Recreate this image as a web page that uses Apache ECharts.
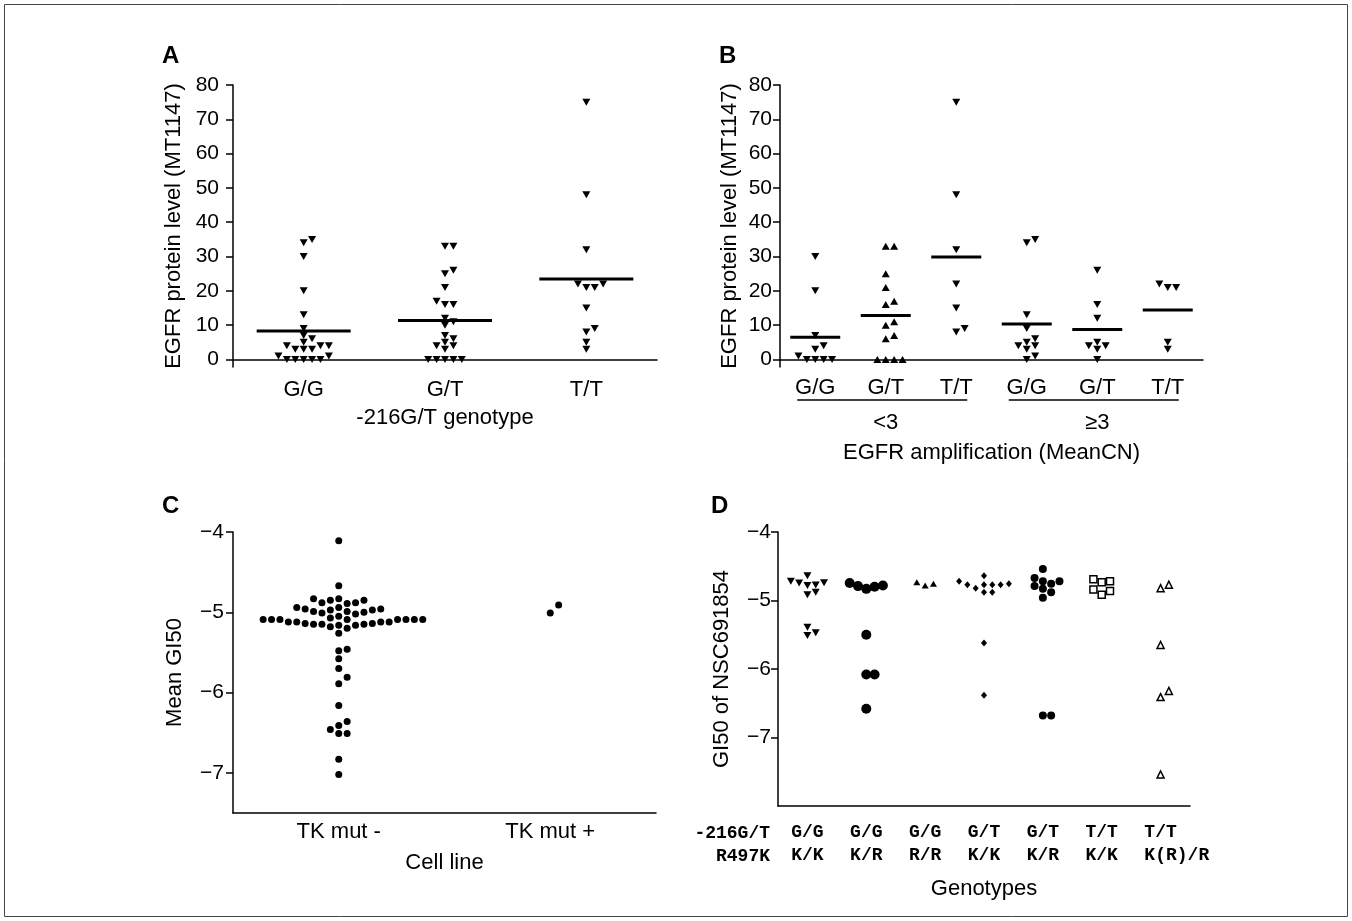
<!DOCTYPE html>
<html><head><meta charset="utf-8">
<script src="https://cdn.jsdelivr.net/npm/echarts@6/dist/echarts.min.js"></script>
<style>html,body{margin:0;padding:0;background:#fff}#c{width:1352px;height:921px}</style>
</head><body><div id="c"></div>
<script>
// ---------- Panel A ----------
const aCategories = ['G/G', 'G/T', 'T/T'];
const aGG = [35, 34, 30, 20, 13, 9, 7, 6, 5, 4, 4, 4, 3, 3, 3, 1, 1, 0, 0, 0, 0, 0];
const aGT = [33, 33, 26, 25, 21, 17, 16, 16, 12, 11, 10, 7, 6, 5, 4, 4, 3, 0, 0, 0, 0, 0];
const aTT = [75, 48, 32, 22, 21, 21, 22, 15, 9, 8, 5, 3];
const egfrTicks = [0, 10, 20, 30, 40, 50, 60, 70, 80];
// ---------- Panel B ----------
const bCategories = ['G/G', 'G/T', 'T/T', 'G/G', 'G/T', 'T/T'];
const bGroups = ['<3', '\u22653'];
const bLowGG = [30, 20, 7, 4, 3, 1, 0, 0, 0, 0];
const bLowGT = [33, 33, 25, 21, 17, 16, 11, 10, 7, 6, 0, 0, 0, 0];
const bLowTT = [75, 48, 32, 22, 15, 9, 8];
const bHighGG = [35, 34, 13, 9, 6, 5, 4, 3, 4, 1, 0];
const bHighGT = [26, 16, 12, 5, 4, 3, 4, 0];
const bHighTT = [22, 21, 21, 5, 3];
// ---------- Panel C ----------
const cCategories = ['TK mut -', 'TK mut +'];
const cMutNeg = [-4.11, -4.67,
  -4.83, -4.83, -4.85, -4.85, -4.88, -4.88, -4.89,
  -4.94, -4.94, -4.96, -4.96, -4.97, -4.97, -4.99, -4.99, -5.00, -5.01, -5.02, -5.05, -5.07,
  -5.09, -5.09, -5.09, -5.09, -5.09, -5.09, -5.09, -5.09,
  -5.12, -5.12, -5.12, -5.12, -5.14, -5.14, -5.15, -5.15, -5.15, -5.16, -5.16, -5.18, -5.20,
  -5.26, -5.46, -5.48, -5.58, -5.70, -5.81, -5.89, -6.16, -6.36, -6.41, -6.46, -6.51, -6.51, -6.83, -7.02];
const cMutPos = [-5.01, -4.91];
const gi50Ticks = [-7, -6, -5, -4];
// ---------- Panel D ----------
const dPromoter = ['G/G', 'G/G', 'G/G', 'G/T', 'G/T', 'T/T', 'T/T'];
const dR497K = ['K/K', 'K/R', 'R/R', 'K/K', 'K/R', 'K/K', 'K(R)/R'];
const dRowHeaders = ['-216G/T', 'R497K'];
const dGGKK = [-4.64, -4.72, -4.74, -4.745, -4.775, -4.78, -4.88, -4.915, -5.39, -5.47, -5.51];
const dGGKR = [-4.745, -4.78, -4.79, -4.80, -4.83, -5.50, -6.08, -6.08, -6.58];
const dGGRR = [-4.735, -4.755, -4.78];
const dGTKK = [-4.64, -4.72, -4.755, -4.77, -4.77, -4.77, -4.77, -4.82, -4.88, -4.88, -5.62, -6.385];
const dGTKR = [-4.54, -4.67, -4.72, -4.72, -4.755, -4.79, -4.83, -4.88, -4.96, -6.68, -6.68];
const dTTKK = [-4.69, -4.72, -4.735, -4.84, -4.86, -4.915];
const dTTKR = [-4.77, -4.82, -5.65, -6.32, -6.41, -7.54];

// ---------- layout ----------
const FONT = "'Liberation Sans', Arial, sans-serif";
const MONO = "'Liberation Mono', 'Courier New', monospace";
const GA = {left: 233, top: 85, width: 424, height: 282};
const GB = {left: 780, top: 85, width: 423, height: 282};
const GC = {left: 233, top: 532, width: 423, height: 281};
const GD = {left: 778, top: 532, width: 412, height: 274};
const RA = [-2.2, 80], RC = [-7.5, -4], RD = [-8, -4];
const TICK_FS = 21, CAT_FS = 22, NAME_FS = 22;

const mean = a => a.reduce((s, v) => s + v, 0) / a.length;
const minusFmt = v => (v < 0 ? '\u2212' + Math.abs(v) : String(v));

// two-line monospace genotype label, lines left-aligned starting 1.5 chars left of the tick
function genoLabel(p, r) {
  const L = Math.max(p.length, r.length);
  const lead = ' '.repeat(L - 3);
  return lead + p.padEnd(L, ' ') + '\n' + lead + r.padEnd(L, ' ');
}

// beeswarm: horizontal pixel offsets computed from values
function swarm(values, ppu, spacing, thresh) {
  const idx = values.map((v, i) => i).sort((a, b) => values[a] - values[b]);
  const placed = [];
  const offs = new Array(values.length);
  for (const i of idx) {
    const y = values[i] * ppu;
    for (let k = 0; ; k++) {
      const slot = k === 0 ? 0 : (k % 2 ? (k + 1) / 2 : -k / 2);
      if (!placed.some(p => p.slot === slot && Math.abs(p.y - y) < thresh)) {
        placed.push({slot, y});
        offs[i] = slot * spacing;
        break;
      }
    }
  }
  return offs;
}
function swarmData(cat, values, ppu, spacing, thresh) {
  const o = swarm(values, ppu, spacing, thresh);
  return values.map((v, i) => ({value: [cat, v], symbolOffset: [o[i], 0]}));
}

const ppuA = GA.height / (RA[1] - RA[0]);
const ppuB = GB.height / (RA[1] - RA[0]);
const ppuC = GC.height / (RC[1] - RC[0]);
const ppuD = GD.height / (RD[1] - RD[0]);

const black = '#000';
const axisLineS = {lineStyle: {color: black, width: 1.5}};
const tickS = {alignWithLabel: true, length: 7, lineStyle: {color: black, width: 1.5}};
const lblS = (margin, fs) => ({interval: 0, margin, fontSize: fs, color: black, fontFamily: FONT});
const nameS = {fontSize: NAME_FS, color: black, fontFamily: FONT};

const invTri = {symbol: 'triangle', symbolRotate: 180, symbolSize: [8, 7]};
const upTri = {symbol: 'triangle', symbolSize: [8, 7]};

function scat(xi, yi, data, sym, extra) {
  return Object.assign({type: 'scatter', xAxisIndex: xi, yAxisIndex: yi, data,
    itemStyle: {color: black, opacity: 1}, emphasis: {disabled: true}, z: 3}, sym, extra || {});
}
function meanLine(xi, yi, groups, w) {
  return {type: 'scatter', xAxisIndex: xi, yAxisIndex: yi, symbol: 'rect', symbolSize: [w, 3],
    itemStyle: {color: black, opacity: 1}, z: 4, emphasis: {disabled: true},
    data: groups.map((g, i) => [i, mean(g)])};
}

const aSets = [aGG, aGT, aTT];
const bSets = [bLowGG, bLowGT, bLowTT, bHighGG, bHighGT, bHighTT];

const series = [];
aSets.forEach((s, i) => series.push(scat(0, 0, swarmData(i, s, ppuA, 8.4, 6.5), invTri)));
series.push(meanLine(0, 0, aSets, 94));
bSets.forEach((s, i) => series.push(scat(1, 1, swarmData(i, s, ppuB, 8.4, 6.5), i === 1 ? upTri : invTri)));
series.push(meanLine(1, 1, bSets, 50));
series.push(scat(3, 2, swarmData(0, cMutNeg, ppuC, 8.4, 7.5), {symbol: 'circle', symbolSize: 7}));
series.push(scat(3, 2, swarmData(1, cMutPos, ppuC, 8.4, 8.5), {symbol: 'circle', symbolSize: 7}));
const hollow = {itemStyle: {color: '#fff', borderColor: black, borderWidth: 1.5, opacity: 1}};
const dDefs = [
  [dGGKK, {symbol: 'triangle', symbolRotate: 180, symbolSize: [8, 7]}],
  [dGGKR, {symbol: 'circle', symbolSize: 10}],
  [dGGRR, {symbol: 'triangle', symbolSize: [7, 6]}],
  [dGTKK, {symbol: 'diamond', symbolSize: [6, 7]}],
  [dGTKR, {symbol: 'circle', symbolSize: 8}],
  [dTTKK, {symbol: 'rect', symbolSize: 7}, hollow],
  [dTTKR, {symbol: 'triangle', symbolSize: [7, 7]}, hollow]
];
dDefs.forEach((d, i) => series.push(scat(4, 3, swarmData(i, d[0], ppuD, 8.3, 7), d[1], d[2])));

function yAx(grid, range, ticks, margin, name, gap, fmt) {
  const lbl = Object.assign(lblS(margin, TICK_FS), {customValues: ticks});
  if (fmt) lbl.formatter = fmt;
  return {gridIndex: grid, type: 'value', min: range[0], max: range[1], splitLine: {show: false},
    axisLine: {show: true, lineStyle: {color: black, width: 1.5}},
    axisTick: {show: true, length: 7, customValues: ticks, lineStyle: {color: black, width: 1.5}},
    axisLabel: lbl, name, nameLocation: 'middle', nameGap: gap, nameTextStyle: nameS};
}

const option = {
  animation: false,
  backgroundColor: '#fff',
  textStyle: {fontFamily: FONT},
  grid: [GA, GB, GC, GD].map(g => Object.assign({containLabel: false}, g)),
  xAxis: [
    {gridIndex: 0, type: 'category', data: aCategories, axisLine: axisLineS, axisTick: tickS,
      axisLabel: lblS(12, CAT_FS), name: '-216G/T genotype', nameLocation: 'middle', nameGap: 40, nameTextStyle: nameS},
    {gridIndex: 1, type: 'category', data: bCategories, axisLine: axisLineS, axisTick: tickS,
      axisLabel: lblS(10, CAT_FS)},
    {gridIndex: 1, type: 'category', data: bGroups, position: 'bottom', offset: 0,
      axisLine: {show: false}, axisTick: {show: false}, axisLabel: lblS(45, CAT_FS),
      name: 'EGFR amplification (MeanCN)', nameLocation: 'middle', nameGap: 75, nameTextStyle: nameS},
    {gridIndex: 2, type: 'category', data: cCategories, axisLine: axisLineS, axisTick: tickS,
      axisLabel: lblS(8, CAT_FS), name: 'Cell line', nameLocation: 'middle', nameGap: 39, nameTextStyle: nameS},
    {gridIndex: 3, type: 'category', data: dPromoter.map((p, i) => genoLabel(p, dR497K[i])),
      axisLine: axisLineS, axisTick: tickS,
      axisLabel: {interval: 0, margin: 15, fontSize: 18, lineHeight: 23, fontWeight: 'bold', color: black, fontFamily: MONO},
      name: 'Genotypes', nameLocation: 'middle', nameGap: 72, nameTextStyle: nameS}
  ],
  yAxis: [
    yAx(0, RA, egfrTicks, 14, 'EGFR protein level (MT1147)', 48),
    yAx(1, RA, egfrTicks, 8, 'EGFR protein level (MT1147)', 39),
    yAx(2, RC, gi50Ticks, 9, 'Mean GI50', 47, minusFmt),
    yAx(3, RD, gi50Ticks, 7, 'GI50 of NSC691854', 45, minusFmt)
  ],
  series
};

const chart = echarts.init(document.getElementById('c'), null, {renderer: 'canvas'});
chart.setOption(option);

// decorations: panel letters, frame, B group underlines, D row headers
const px = (xi, idx) => chart.convertToPixel({xAxisIndex: xi}, idx);
const lineY = 400;
const graphics = [
  {type: 'rect', shape: {x: 4.5, y: 4.5, width: 1343, height: 912}, style: {fill: 'none', stroke: '#444', lineWidth: 1}},
  {type: 'text', x: 162, y: 44, style: {text: 'A', font: 'bold 24px ' + FONT, fill: black}},
  {type: 'text', x: 719, y: 44, style: {text: 'B', font: 'bold 24px ' + FONT, fill: black}},
  {type: 'text', x: 162, y: 494, style: {text: 'C', font: 'bold 24px ' + FONT, fill: black}},
  {type: 'text', x: 711, y: 494, style: {text: 'D', font: 'bold 24px ' + FONT, fill: black}},
  {type: 'line', shape: {x1: px(1, 0) - 18, y1: lineY, x2: px(1, 2) + 11, y2: lineY}, style: {stroke: black, lineWidth: 1.5}},
  {type: 'line', shape: {x1: px(1, 3) - 18, y1: lineY, x2: px(1, 5) + 11, y2: lineY}, style: {stroke: black, lineWidth: 1.5}},
  {type: 'text', x: GD.left - 8, y: 833, style: {text: dRowHeaders[0], align: 'right', verticalAlign: 'middle', font: 'bold 18px ' + MONO, fill: black}},
  {type: 'text', x: GD.left - 8, y: 856, style: {text: dRowHeaders[1], align: 'right', verticalAlign: 'middle', font: 'bold 18px ' + MONO, fill: black}}
];
chart.setOption({graphic: graphics});
</script>
</body></html>
